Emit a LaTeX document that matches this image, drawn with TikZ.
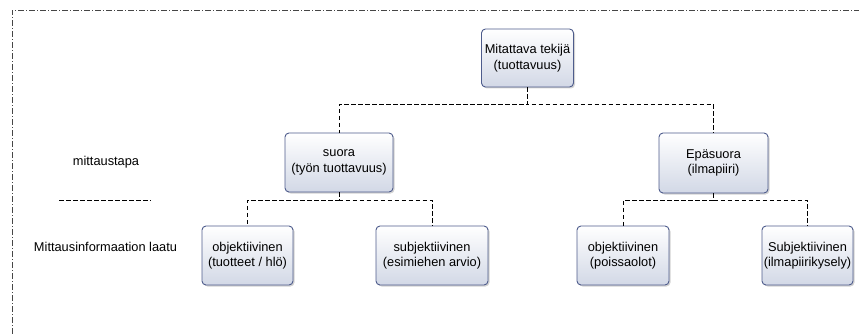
\documentclass[tikz,border=0pt]{standalone}
\usepackage{fontspec}
\setmainfont{Liberation Sans}
\usetikzlibrary{shadows,calc}
\definecolor{boxborder}{RGB}{78,92,140}
\definecolor{boxbottom}{RGB}{210,216,230}
\definecolor{framecol}{RGB}{70,70,70}
\tikzset{
  orgbox/.style={draw=boxborder, line width=0.9pt, rounded corners=4pt,
    top color=white, bottom color=boxbottom, shading angle=0,
    drop shadow={shadow xshift=1.5pt, shadow yshift=-1.5pt, opacity=0.35, fill=gray},
    align=center, inner sep=0pt, font=\fontsize{12.8}{15.5}\selectfont},
  lbl/.style={font=\fontsize{12.8}{15.5}\selectfont, inner sep=0pt},
  conn/.style={draw=black, dashed, dash pattern=on 4.5pt off 2.5pt, line width=0.8pt},
  framestyle/.style={draw=framecol, line width=0.8pt, dash pattern=on 6pt off 2pt on 1pt off 2pt}
}
\begin{document}
\begin{tikzpicture}[x=1pt,y=-1pt]
\useasboundingbox (0,0) rectangle (859,334);
\coordinate (fb) at (12,334);
\coordinate (fc) at (12,10);
\coordinate (fr) at (859,10);
\draw[framestyle] (fb) -- (fc) -- (fr);

\node[orgbox, minimum width=92pt, minimum height=58pt] (top) at (527.5,58) {Mitattava tekijä\\(tuottavuus)};
\node[orgbox, minimum width=108pt, minimum height=59pt] (suora) at (339,162.5) {suora\\(työn tuottavuus)};
\node[orgbox, minimum width=109pt, minimum height=60pt] (epa) at (713.5,163) {Epäsuora\\(ilmapiiri)};
\node[orgbox, minimum width=91pt, minimum height=59pt] (obj1) at (247.5,255.5) {objektiivinen\\(tuotteet / hlö)};
\node[orgbox, minimum width=112pt, minimum height=59pt] (subj1) at (432,255.5) {subjektiivinen\\(esimiehen arvio)};
\node[orgbox, minimum width=92pt, minimum height=59pt] (obj2) at (623,255.5) {objektiivinen\\(poissaolot)};
\node[orgbox, minimum width=91pt, minimum height=59pt] (subj2) at (807.5,255.5) {Subjektiivinen\\(ilmapiirikysely)};

\draw[conn] (top.south) -- ++(0,17) -| (suora.north);
\draw[conn] (top.south) -- ++(0,17) -| (epa.north);
\draw[conn] (suora.south) -- ++(0,7.5) -| (obj1.north);
\draw[conn] (suora.south) -- ++(0,7.5) -| (subj1.north);
\draw[conn] (epa.south) -- ++(0,7) -| (obj2.north);
\draw[conn] (epa.south) -- ++(0,7) -| (subj2.north);

\node[lbl] (mt) at (106,162) {mittaustapa};
\coordinate (sa) at (59,200);
\coordinate (sb) at (151,200);
\draw[conn] (sa) -- (sb);
\node[lbl] (mil) at (105.5,247) {Mittausinformaation laatu};
\end{tikzpicture}
\end{document}
